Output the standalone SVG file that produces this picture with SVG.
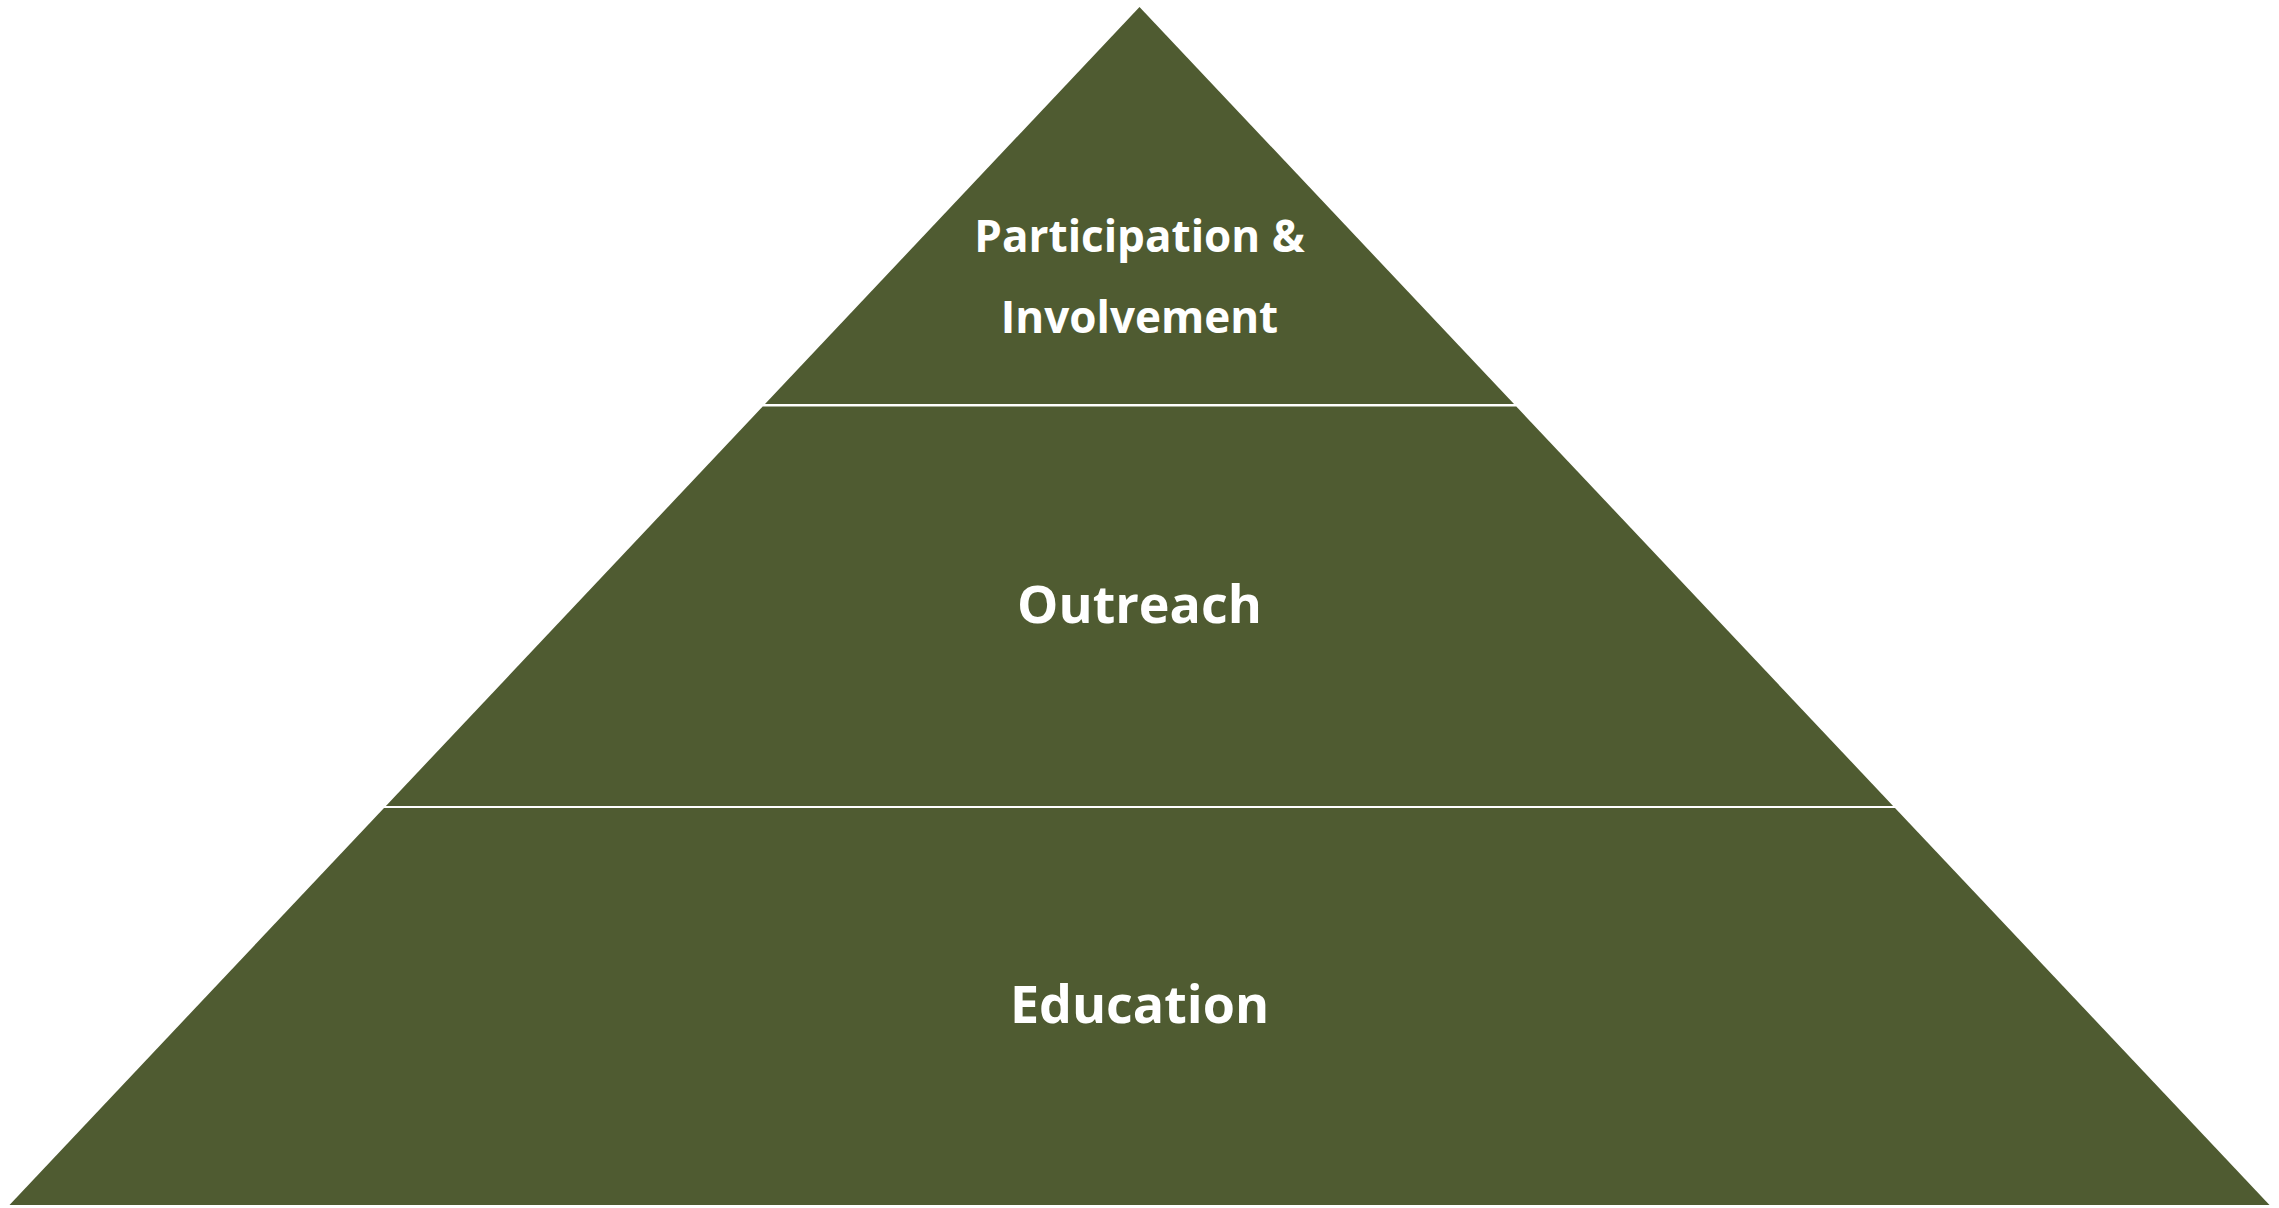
<svg xmlns="http://www.w3.org/2000/svg" width="2279" height="1208" viewBox="0 0 2279 1208">
  <style>
    .tier { fill: #4F5B31; stroke: none; }
    .label { font-family: "Open Sans", "Liberation Sans", sans-serif; font-weight: bold; fill: #FFFFFF; text-anchor: middle; }
    .small { font-size: 44px; }
    .big { font-size: 52px; }
  </style>
  <rect x="0" y="0" width="2279" height="1208" fill="#FFFFFF"/>
  <g id="tier-participation">
    <polygon class="tier" points="1139.5,7 1514,404 765,404"/>
    <text class="label small" x="1139.5" y="252">Participation &amp;</text>
    <text class="label small" x="1139.5" y="333">Involvement</text>
  </g>
  <g id="tier-outreach">
    <polygon class="tier" points="762.7,406.5 1516.3,406.5 1893.1,806 385.9,806"/>
    <text class="label big" x="1139.5" y="623">Outreach</text>
  </g>
  <g id="tier-education">
    <polygon class="tier" points="384,808 1895,808 2269.5,1205 9.5,1205"/>
    <text class="label big" x="1139.5" y="1023">Education</text>
  </g>
  <g id="connectors"></g>
</svg>
